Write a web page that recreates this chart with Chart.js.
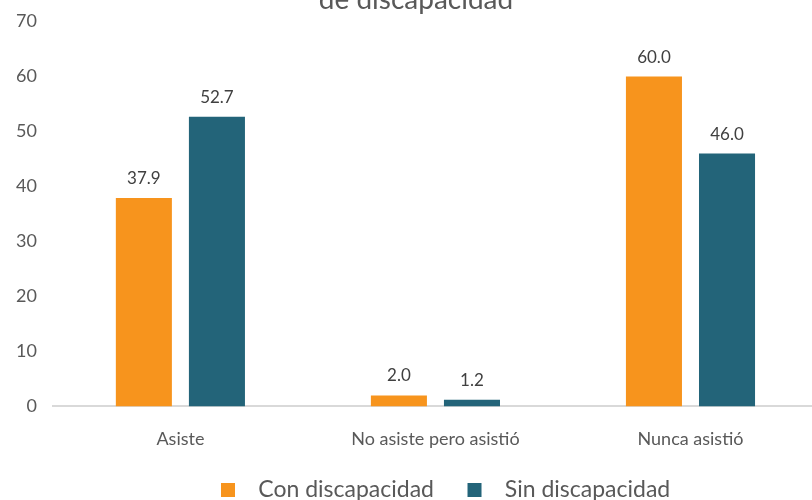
<!DOCTYPE html>
<html>
<head>
<meta charset="utf-8">
<script src="https://cdn.jsdelivr.net/npm/chart.js@4"></script>
<style>
    html, body { margin: 0; padding: 0; background: #fff; overflow: hidden; }
    .chart-container { position: absolute; left: 0; top: -14px; width: 818px; height: 529px; }
</style>
</head>
<body>
<div class="chart-container">
    <canvas id="bar"></canvas>
</div>
<script>
const categories = ['Asiste', 'No asiste pero asistió', 'Nunca asistió'];
const conDiscapacidad = [37.9, 2.0, 60.0];
const sinDiscapacidad = [52.7, 1.2, 46.0];
const seriesNames = ['Con discapacidad', 'Sin discapacidad'];
const yTicks = [0, 10, 20, 30, 40, 50, 60, 70];

const FONT = "Lato, 'Open Sans', sans-serif";

// writes each bar's value just above it
const valueLabels = {
    id: 'valueLabels',
    afterDatasetsDraw(chart) {
        const ctx = chart.ctx;
        ctx.save();
        ctx.font = '17px ' + FONT;
        ctx.fillStyle = '#404040';
        ctx.textAlign = 'center';
        ctx.textBaseline = 'bottom';
        chart.data.datasets.forEach((ds, i) => {
            chart.getDatasetMeta(i).data.forEach((bar, j) => {
                ctx.fillText(ds.data[j].toFixed(1), bar.x, bar.y - 11);
            });
        });
        ctx.restore();
    }
};

// place the legend row and the title line
const placeBoxes = {
    id: 'placeBoxes',
    afterLayout(chart) {
        const lg = chart.legend;
        const pad = lg.options.labels.padding;
        const w = lg.right - lg.left, h = lg.bottom - lg.top;
        lg.left = 221 - pad; lg.right = lg.left + w;
        lg.top = 504 - 11.5 - pad; lg.bottom = lg.top + h;
        const tt = chart.titleBlock;
        tt.left += 7; tt.right += 7;
        tt.top -= 3; tt.bottom -= 3;
    }
};

new Chart(document.getElementById('bar'), {
    type: 'bar',
    data: {
        labels: categories,
        datasets: [{
            label: seriesNames[0],
            data: conDiscapacidad,
            backgroundColor: '#F7941D',
            categoryPercentage: 0.573,
            barPercentage: 0.767
        }, {
            label: seriesNames[1],
            data: sinDiscapacidad,
            backgroundColor: '#236479',
            categoryPercentage: 0.573,
            barPercentage: 0.767
        }]
    },
    options: {
        responsive: true,
        maintainAspectRatio: false,
        animation: false,
        layout: { padding: { left: 0, right: 0, top: 0, bottom: 0 } },
        scales: {
            x: {
                grid: { display: false, drawTicks: false },
                border: { color: '#d9d9d9', width: 2 },
                ticks: { color: '#595959', font: { family: FONT, size: 18 }, padding: 22 }
            },
            y: {
                min: 0,
                max: 70,
                afterBuildTicks: (axis) => { axis.ticks = yTicks.map(v => ({ value: v })); },
                grid: { display: false, drawTicks: false },
                border: { display: false },
                ticks: { color: '#595959', font: { family: FONT, size: 18 }, padding: 16 }
            }
        },
        plugins: {
            title: {
                display: true,
                text: 'de discapacidad',
                color: '#595959',
                font: { family: FONT, size: 28, weight: 'normal' },
                padding: { top: 0, bottom: 2 }
            },
            legend: {
                position: 'bottom',
                align: 'start',
                labels: {
                    color: '#595959',
                    font: { family: FONT, size: 23 },
                    boxWidth: 14,
                    boxHeight: 14,
                    padding: 10,
                    generateLabels(chart) {
                        const items = Chart.defaults.plugins.legend.labels.generateLabels(chart);
                        items.forEach(it => { it.text = '  ' + it.text + '    '; it.lineWidth = 0; });
                        return items;
                    }
                }
            },
            tooltip: { enabled: false }
        }
    },
    plugins: [valueLabels, placeBoxes]
});
</script>
</body>
</html>
